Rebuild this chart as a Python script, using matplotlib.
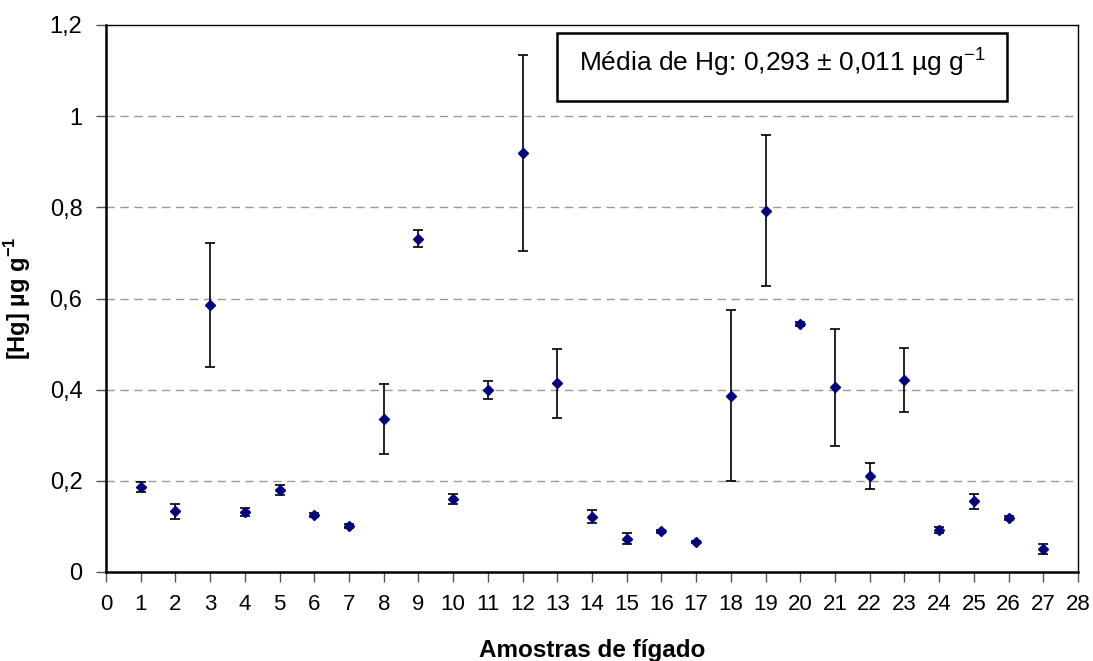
import matplotlib
matplotlib.use("Agg")
import matplotlib.pyplot as plt
from matplotlib.ticker import FuncFormatter
from matplotlib.patches import Rectangle

plt.rcParams['font.family'] = ['Liberation Sans', 'DejaVu Sans']
plt.rcParams['mathtext.fontset'] = 'custom'
plt.rcParams['mathtext.rm'] = 'Liberation Sans'
plt.rcParams['mathtext.bf'] = 'Liberation Sans:bold'

samples = list(range(1, 28))
hg_mean = [0.187, 0.133, 0.586, 0.131, 0.180, 0.125, 0.101, 0.336, 0.731, 0.161,
           0.399, 0.919, 0.414, 0.121, 0.073, 0.089, 0.066, 0.387, 0.793, 0.544,
           0.405, 0.211, 0.421, 0.092, 0.155, 0.118, 0.050]
hg_err = [0.011, 0.016, 0.136, 0.009, 0.010, 0.004, 0.004, 0.077, 0.019, 0.011,
          0.019, 0.215, 0.076, 0.014, 0.012, 0.004, 0.003, 0.187, 0.165, 0.004,
          0.129, 0.029, 0.070, 0.006, 0.016, 0.004, 0.011]
x_ticks = list(range(0, 29))
y_ticks = [0, 0.2, 0.4, 0.6, 0.8, 1.0, 1.2]
annotation = "Média de Hg: 0,293 ± 0,011 µg g$^{\\mathregular{-1}}$"

W, H = 1093, 661
fig = plt.figure(figsize=(W / 100, H / 100), dpi=100)
ax = fig.add_axes([106 / W, 1 - 572 / H, (1078 - 106) / W, (572 - 25) / H])

ax.errorbar(samples, hg_mean, yerr=hg_err, fmt='D', color='#000080',
            markersize=5, ecolor='black', elinewidth=1.2, capsize=3.6,
            capthick=1.2, zorder=3)

ax.set_xlim(0, 28)
ax.set_ylim(0, 1.2)
ax.set_xticks(x_ticks)
ax.set_yticks(y_ticks)

def fmt(v, pos):
    s = ('%.1f' % v)
    if s.endswith('.0'):
        s = s[:-2]
    return s.replace('.', ',')

ax.yaxis.set_major_formatter(FuncFormatter(fmt))

for y in y_ticks[1:-1]:
    ax.axhline(y, color='#999999', linestyle=(0, (6, 4)), linewidth=1, zorder=1)

for side in ['left', 'bottom']:
    ax.spines[side].set_linewidth(1.8)
    ax.spines[side].set_color('black')
for side in ['top', 'right']:
    ax.spines[side].set_linewidth(1.0)
    ax.spines[side].set_color('black')

ax.tick_params(axis='x', direction='out', length=7, width=1, color='#555555',
               labelsize=16, pad=9)
ax.tick_params(axis='y', direction='out', length=7, width=1, color='#555555',
               labelsize=17, pad=10)

ax.set_xlabel("Amostras de fígado", fontsize=17.5, fontweight='bold', labelpad=17)
ax.set_ylabel("[Hg] µg g$^{\\mathbf{-1}}$", fontsize=17, fontweight='bold', labelpad=12)

fig.patches.append(Rectangle((557 / W, 1 - 101 / H), (1007 - 557) / W, (101 - 33) / H,
                             transform=fig.transFigure, facecolor='white',
                             edgecolor='black', linewidth=1.8, zorder=5))
fig.text(579 / W, 1 - 62 / H, annotation, ha='left', va='center', fontsize=19, zorder=6)

fig.savefig('out.png', dpi=100)
